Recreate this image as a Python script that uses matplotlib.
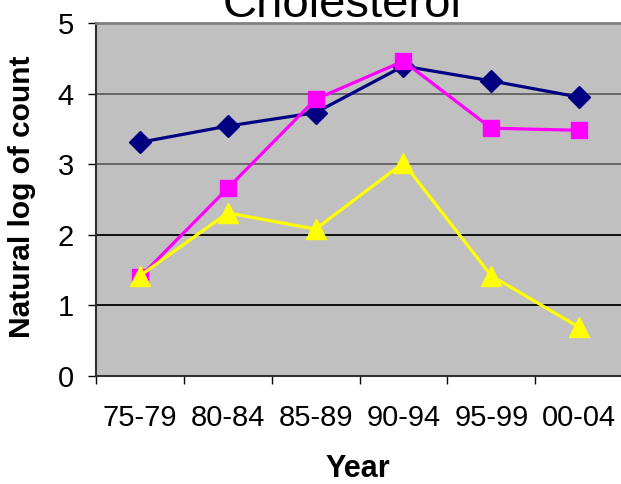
import matplotlib
matplotlib.use("Agg")
import matplotlib.pyplot as plt
import numpy as np

plt.rcParams["font.family"] = ["Liberation Sans", "DejaVu Sans"]

periods = ["75-79", "80-84", "85-89", "90-94", "95-99", "00-04"]
series_navy = [3.31, 3.54, 3.73, 4.39, 4.18, 3.95]
series_magenta = [1.40, 2.66, 3.92, 4.46, 3.51, 3.48]
series_yellow = [1.42, 2.31, 2.08, 3.02, 1.42, 0.69]
y_ticks = [0, 1, 2, 3, 4, 5]

W, H = 621, 484
fig = plt.figure(figsize=(W / 100, H / 100), dpi=100)
ax = fig.add_axes([96 / W, 1 - 376 / H, (623 - 96) / W, (376 - 23) / H])
ax.set_facecolor("#C0C0C0")

x = np.arange(len(periods)) + 0.5
ax.plot(x, series_navy, color="#000080", lw=2.3, marker="D", ms=11.5,
        mec="#000080", mfc="#000080", zorder=3, clip_on=False)
ax.plot(x, series_magenta, color="#FF00FF", lw=2.3, marker="s", ms=11.5,
        mec="#FF00FF", mfc="#FF00FF", zorder=4, clip_on=False)
ax.plot(x, series_yellow, color="#FFFF00", lw=2.3, marker="^", ms=14,
        mec="#FFFF00", mfc="#FFFF00", zorder=5, clip_on=False)

ax.set_xlim(0, len(periods))
ax.set_ylim(0, 5)

# horizontal gridlines
grid_colors = {1: "#000000", 2: "#000000", 3: "#606060", 4: "#606060"}
for yv in y_ticks[1:-1]:
    ax.axhline(yv, color=grid_colors[yv], lw=1.3, zorder=1)

ax.set_yticks(y_ticks)
ax.set_yticklabels([str(v) for v in y_ticks], fontsize=21)
ax.tick_params(axis="y", direction="out", length=6, width=1, pad=10, color="#000000")

ax.set_xticks(np.arange(len(periods) + 1))
ax.set_xticklabels([])
ax.tick_params(axis="x", which="major", direction="out", length=6, width=1, color="#000000")
ax.set_xticks(x, minor=True)
ax.set_xticklabels(periods, minor=True, fontsize=21)
ax.tick_params(axis="x", which="minor", length=0, pad=20)

for side in ("left", "bottom"):
    ax.spines[side].set_color("#303030")
    ax.spines[side].set_linewidth(1.5)
ax.spines["top"].set_color("#808080")
ax.spines["top"].set_linewidth(2)
ax.spines["right"].set_color("#808080")

fig.text(342 / W, 1 - 17 / H, "Cholesterol", fontsize=34, ha="center", va="baseline")
fig.text(22 / W, 1 - 197 / H, "Natural log of count", fontsize=21.5, fontweight="bold",
         rotation=90, ha="center", va="center")
fig.text(358 / W, 1 - 469 / H, "Year", fontsize=22, fontweight="bold",
         ha="center", va="center")

fig.savefig("out.png", dpi=100, facecolor="white")
